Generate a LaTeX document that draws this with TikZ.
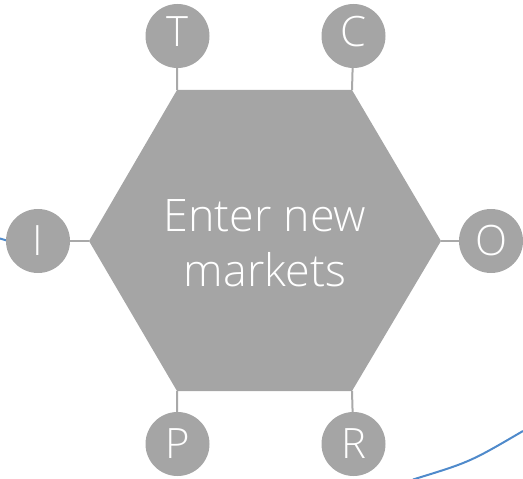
\documentclass[tikz,border=0pt]{standalone}
\usepackage{fontspec}
\setmainfont{Open Sans Light}
\definecolor{hexgray}{HTML}{A5A5A5}
\definecolor{linkgray}{HTML}{A9A9A9}
\definecolor{arcblue}{HTML}{4F8ACB}
\begin{document}
\begin{tikzpicture}[x=1bp,y=-1bp,
  letter/.style={circle,fill=hexgray,minimum size=64bp,inner sep=0pt},
  lettertext/.style={text=white,font=\fontsize{42}{42}\selectfont,anchor=base},
  link/.style={draw=linkgray,line width=2bp},
  arc/.style={draw=arcblue,line width=2bp}]
\useasboundingbox (0,0) rectangle (523,479);
% blue background arc pieces
\coordinate (a1) at (0,238.5);
\coordinate (a2) at (10,241.5);
\coordinate (b1) at (519,240);
\coordinate (b2) at (523,239);
\coordinate (c1) at (413,479.5);
\coordinate (c2) at (523,431);
\draw[arc] (a1) -- (a2);
\draw[arc] (b1) -- (b2);
\draw[arc] (c1) .. controls (470,462) .. (c2);
% hexagon
\coordinate (h1) at (177,90);
\coordinate (h2) at (352,90);
\coordinate (h3) at (441,241);
\coordinate (h4) at (352,391);
\coordinate (h5) at (177,391);
\coordinate (h6) at (89,241);
\fill[hexgray] (h1) -- (h2) -- (h3) -- (h4) -- (h5) -- (h6) -- cycle;
\node[text=white,align=center,font=\fontsize{45}{55}\selectfont] (center) at (265,243) {Enter new\\markets};
% letter circles
\node[letter] (T) at (177.5,36) {};
\node[letter] (C) at (353.5,36) {};
\node[letter] (I) at (38,241) {};
\node[letter] (O) at (491,241) {};
\node[letter] (P) at (177.5,444) {};
\node[letter] (R) at (353.5,444) {};
\node[lettertext] (tT) at (177.5,47) {T};
\node[lettertext] (tC) at (353.5,47) {C};
\node[lettertext] (tI) at (38,255) {I};
\node[lettertext] (tO) at (491,255) {O};
\node[lettertext] (tP) at (177.5,458) {P};
\node[lettertext] (tR) at (353.5,458) {R};
% connectors
\draw[link] (T) -- (h1);
\draw[link] (C) -- (h2);
\draw[link] (I) -- (h6);
\draw[link] (O) -- (h3);
\draw[link] (P) -- (h5);
\draw[link] (R) -- (h4);
\end{tikzpicture}
\end{document}
